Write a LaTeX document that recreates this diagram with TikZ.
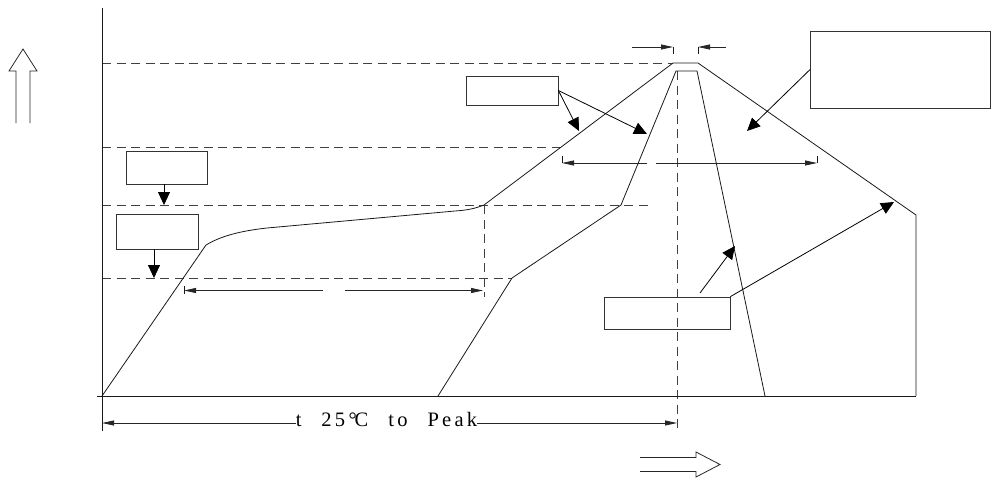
\documentclass[tikz,border=0pt]{standalone}
\usepackage{fontspec}
\setmainfont{Liberation Serif}
\newfontfamily\lblfont[LetterSpace=16]{Liberation Serif}
\usetikzlibrary{arrows.meta}
\tikzset{
  ln/.style={line width=0.8pt, black!90},
  dsh/.style={line width=0.8pt, black!75, dash pattern=on 9pt off 5.5pt},
  box/.style={draw=black!80, line width=0.8pt, minimum width=#1, inner sep=0pt},
  callout/.style={line width=0.8pt, black, -{Triangle[length=13pt,width=12pt]}},
  dimto/.style={line width=0.8pt, black!85, -{Triangle[length=12pt,width=5pt]}},
  hollow/.style={line width=0.8pt, black!85}
}
\begin{document}
\begin{tikzpicture}[x=1pt,y=-1pt]
\useasboundingbox (0,0) rectangle (992,479);

% hollow arrows
\draw[hollow] (16,123) -- (16,71) -- (9,71) -- (23,49) -- (37,71) -- (30,71) -- (30,123);
\draw[hollow] (640,457.5) -- (696,457.5) -- (696,452) -- (720,464.5) -- (696,477) -- (696,471.5) -- (640,471.5);

% key points
\coordinate (pk1) at (673,63);
\coordinate (pk2) at (698,63);
\coordinate (c1) at (206,245);
\coordinate (c2) at (484,205);
\coordinate (c3) at (916,215);
\coordinate (c4) at (916,396);
\coordinate (o) at (102,396);
\coordinate (i0) at (438,396);
\coordinate (i1) at (512,278);
\coordinate (i2) at (621,205);
\coordinate (i3) at (676,71);
\coordinate (i4) at (697,71);
\coordinate (i5) at (765,396);

% dashed levels
\draw[dsh] (102,63) -- (pk1);
\draw[dsh] (102,147) -- (560,147);
\draw[dsh] (102,205) -- (652,205);
\draw[dsh] (102,278) -- (i1);
\draw[dsh] (c2) -- (484,297);
\draw[dsh] (677,71) -- (677,431);

% axes
\draw[ln] (102,8) -- (o);
\draw[ln] (97,396) -- (c4);

% outer profile
\draw[ln] (o) -- (c1) .. controls (221,236) and (240,231) .. (267,228) -- (455,211)
  .. controls (470,210) and (476,208) .. (c2) -- (pk1) -- (pk2) -- (c3) -- (c4);
% inner profile
\draw[ln] (i0) -- (i1) -- (i2) -- (i3) -- (i4) -- (i5);

% boxes
\node[box=81pt, minimum height=33pt] (bA) at (166.5,167.5) {};
\node[box=82pt, minimum height=35pt] (bB) at (157,231.5) {};
\node[box=92pt, minimum height=29pt] (bC) at (512,90.5) {};
\node[box=180pt, minimum height=77pt] (bD) at (900.5,69.5) {};
\node[box=126pt, minimum height=32pt] (bE) at (667,313) {};

% callout arrows
\coordinate (tA) at (164,205);
\coordinate (tB) at (154,278);
\coordinate (tC1) at (579,131);
\coordinate (tC2) at (647,134);
\coordinate (tD) at (747,131);
\coordinate (sE) at (700,293);
\coordinate (tE1) at (735,246);
\coordinate (tE2) at (894,202);
\draw[callout] (bA.south -| tA) -- (tA);
\draw[callout] (bB.south -| tB) -- (tB);
\draw[callout] (bC.east) -- (tC1);
\draw[callout] (bC.east) -- (tC2);
\draw[callout] (bD.west) -- (tD);
\draw[callout] (sE) -- (tE1);
\draw[callout] (bE.north east) -- (tE2);

% dimension: soak
\coordinate (s0) at (184,290.5);
\coordinate (s1) at (323,290.5);
\coordinate (s2) at (345,290.5);
\coordinate (s3) at (483,290.5);
\draw[ln] (184,286) -- (184,294);
\draw[dimto] (s1) -- (s0);
\draw[dimto] (s2) -- (s3);

% dimension: above liquidus
\coordinate (l0) at (562,163);
\coordinate (l1) at (647,163);
\coordinate (l2) at (656,163);
\coordinate (l3) at (817,163);
\draw[ln] (562,156) -- (l0);
\draw[ln] (817,156) -- (l3);
\draw[dimto] (l1) -- (l0);
\draw[dimto] (l2) -- (l3);

% peak dimension
\coordinate (p0) at (632,47);
\coordinate (p1) at (673,47);
\coordinate (p2) at (726,47);
\coordinate (p3) at (698,47);
\draw[ln] (673,47) -- (673,54);
\draw[ln] (698,47) -- (698,54);
\draw[dimto] (p0) -- (p1);
\draw[dimto] (p2) -- (p3);

% bottom dimension
\draw[ln] (102,396) -- (102,431);
\node[anchor=base, inner sep=0pt, font=\lblfont\fontsize{20.5}{24}\selectfont] (lbl) at (386.5,426.5)
  {t\hspace{20pt}25°\kern-0.1em C\hspace{20pt}to\hspace{20pt}Peak};
\coordinate (b0) at (102,423);
\coordinate (b3) at (677,423);
\draw[dimto] (lbl.west |- b0) -- (b0);
\draw[dimto] (lbl.east |- b3) -- (b3);
\end{tikzpicture}
\end{document}
